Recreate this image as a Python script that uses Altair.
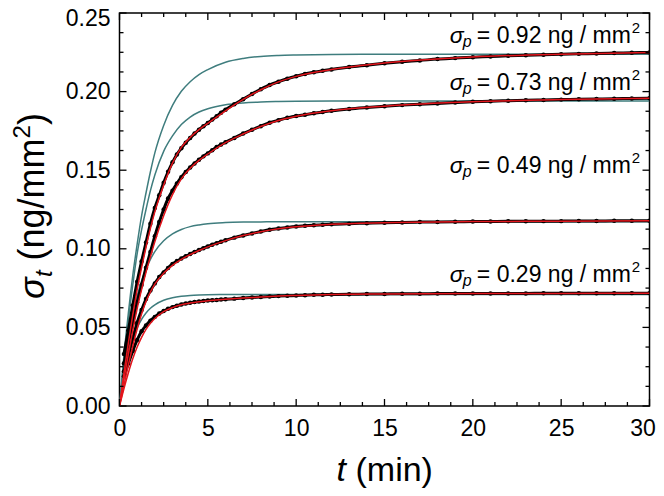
import altair as alt
import pandas as pd

# ---------------- data ----------------
T_DATA = [0.25, 0.5, 0.75, 1.0, 1.25, 1.5, 1.75, 2.0, 2.25, 2.5, 2.75, 3.0, 3.25, 3.5, 3.75, 4.0,
          4.25, 4.5, 4.75, 5.0, 5.25, 5.5, 5.75, 6.0,
          6.5, 7.0, 7.5, 8.0, 8.5, 9.0, 9.5, 10.0, 10.5, 11.0, 11.5, 12.0,
          13, 14, 15, 16, 17, 18, 19, 20, 21, 22, 23, 24, 25, 26, 27, 28, 29, 30]

DATA_092 = [0.033, 0.048, 0.064, 0.079, 0.092, 0.104, 0.116, 0.126, 0.134, 0.142, 0.149, 0.155,
            0.160, 0.164, 0.1675, 0.1705, 0.1733, 0.1758, 0.178, 0.180, 0.1822, 0.1843, 0.1865, 0.1885,
            0.1920, 0.1952, 0.1985, 0.2015, 0.2042, 0.2063, 0.2082, 0.2098, 0.2112, 0.2123, 0.2133, 0.2141,
            0.2156, 0.2168, 0.2180, 0.2190, 0.2198, 0.2207, 0.2213, 0.2219, 0.2223, 0.2228, 0.2231, 0.2235,
            0.2238, 0.2240, 0.2243, 0.2245, 0.2247, 0.2249]
DATA_073 = [0.027, 0.040, 0.053, 0.066, 0.077, 0.088, 0.098, 0.108, 0.117, 0.125, 0.132, 0.137,
            0.1415, 0.1455, 0.1488, 0.1517, 0.1543, 0.1566, 0.1588, 0.1607, 0.1627, 0.1647, 0.1663, 0.1678,
            0.1705, 0.1733, 0.1757, 0.1780, 0.1802, 0.1818, 0.1833, 0.1845, 0.1853, 0.1862, 0.1870, 0.1878,
            0.1890, 0.1899, 0.1907, 0.1914, 0.1920, 0.1925, 0.1930, 0.1935, 0.1939, 0.1942, 0.1945, 0.1947,
            0.1949, 0.1951, 0.1953, 0.1955, 0.1956, 0.1958]
DATA_049 = [0.022, 0.032, 0.043, 0.053, 0.061, 0.068, 0.0735, 0.078, 0.082, 0.085, 0.0878, 0.0903,
            0.0922, 0.0938, 0.0953, 0.0967, 0.0979, 0.0992, 0.1004, 0.1015, 0.1026, 0.1036, 0.1045, 0.1054,
            0.1071, 0.1085, 0.1098, 0.1110, 0.1121, 0.1129, 0.1136, 0.1142, 0.1146, 0.1150, 0.1153, 0.1156,
            0.1160, 0.1163, 0.1166, 0.1168, 0.1170, 0.1171, 0.1172, 0.1173, 0.1174, 0.1175, 0.1175, 0.1176,
            0.1176, 0.1177, 0.1177, 0.1178, 0.1178, 0.1178]
DATA_029 = [0.019, 0.027, 0.035, 0.042, 0.0475, 0.0512, 0.0543, 0.0567, 0.0588, 0.0604, 0.0618, 0.0629,
            0.0638, 0.0646, 0.0652, 0.0657, 0.0661, 0.0665, 0.0668, 0.0671, 0.0673, 0.0675, 0.0677, 0.0679,
            0.0683, 0.0687, 0.0690, 0.0693, 0.0696, 0.0699, 0.0701, 0.0703, 0.0705, 0.0707, 0.0708, 0.0709,
            0.0711, 0.0712, 0.0713, 0.0714, 0.0714, 0.0715, 0.0715, 0.0715, 0.0716, 0.0716, 0.0716, 0.0717,
            0.0717, 0.0717, 0.0717, 0.0717, 0.0718, 0.0718]

T_FIT = [0, 0.25, 0.5, 0.75, 1, 1.25, 1.5, 1.75, 2, 2.5, 3, 3.5, 4, 4.5, 5, 6, 7, 8, 9, 10, 12, 15, 20, 25, 30]

FIT_092 = [0, 0.021, 0.040, 0.058, 0.074, 0.088, 0.101, 0.113, 0.1235, 0.1405, 0.1545, 0.1645, 0.1708,
           0.1758, 0.1798, 0.1878, 0.1950, 0.2012, 0.2062, 0.2097, 0.2140, 0.2182, 0.2220, 0.2238, 0.2248]
FIT_073 = [0, 0.017, 0.033, 0.048, 0.062, 0.074, 0.085, 0.095, 0.1045, 0.121, 0.1345, 0.1445, 0.1512,
           0.1562, 0.1603, 0.1675, 0.1730, 0.1778, 0.1816, 0.1843, 0.1878, 0.1907, 0.1935, 0.1949, 0.1957]
FIT_049 = [0, 0.013, 0.026, 0.038, 0.049, 0.0585, 0.0665, 0.0725, 0.0775, 0.0845, 0.0895, 0.0933, 0.0963,
           0.0989, 0.1012, 0.1052, 0.1084, 0.1109, 0.1128, 0.1141, 0.1156, 0.1166, 0.1173, 0.1176, 0.1178]
FIT_029 = [0, 0.011, 0.021, 0.030, 0.0375, 0.0437, 0.0488, 0.0527, 0.0557, 0.0600, 0.0626, 0.0644, 0.0655,
           0.0663, 0.0669, 0.0679, 0.0687, 0.0693, 0.0699, 0.0703, 0.0709, 0.0713, 0.0715, 0.0716, 0.0717]

FAST_092 = [0, 0.032, 0.059, 0.083, 0.103, 0.121, 0.1355, 0.149, 0.161, 0.1785, 0.1912, 0.2002, 0.2063,
            0.2108, 0.2140, 0.2187, 0.2211, 0.2224, 0.2230, 0.2233, 0.2236, 0.2237, 0.2237, 0.2237, 0.2237]
FAST_073 = [0, 0.030, 0.055, 0.077, 0.097, 0.112, 0.125, 0.137, 0.147, 0.162, 0.1718, 0.1790, 0.1838,
            0.1870, 0.1891, 0.1916, 0.1928, 0.1934, 0.1937, 0.1939, 0.1940, 0.1940, 0.1940, 0.1940, 0.1940]
FAST_049 = [0, 0.0238, 0.0428, 0.0579, 0.070, 0.0796, 0.0872, 0.0933, 0.0982, 0.1051, 0.1095, 0.1123, 0.1141,
            0.1152, 0.1160, 0.1167, 0.1170, 0.1171, 0.1172, 0.1172, 0.1172, 0.1172, 0.1172, 0.1172, 0.1172]
FAST_029 = [0, 0.0184, 0.032, 0.0421, 0.0496, 0.0551, 0.0592, 0.0622, 0.0644, 0.0673, 0.0689, 0.0698, 0.0703,
            0.0706, 0.0708, 0.0709, 0.0710, 0.0710, 0.0710, 0.0710, 0.0710, 0.0710, 0.0710, 0.0710, 0.0710]

SERIES = ["0.92", "0.73", "0.49", "0.29"]
ANNOT_TEXT = ["= 0.92 ng / mm", "= 0.73 ng / mm", "= 0.49 ng / mm", "= 0.29 ng / mm"]
ANNOT_T = [18.7, 18.7, 18.7, 18.7]
ANNOT_V = [0.2309, 0.2010, 0.1482, 0.0789]

X_MAJOR = [0, 5, 10, 15, 20, 25, 30]
X_MINOR = [1.25, 2.5, 3.75, 6.25, 7.5, 8.75, 11.25, 12.5, 13.75, 16.25, 17.5, 18.75,
           21.25, 22.5, 23.75, 26.25, 27.5, 28.75]
Y_MAJOR = [0.0, 0.05, 0.10, 0.15, 0.20, 0.25]
Y_MINOR = [0.0125, 0.025, 0.0375, 0.0625, 0.075, 0.0875, 0.1125, 0.125, 0.1375,
           0.1625, 0.175, 0.1875, 0.2125, 0.225, 0.2375]

# ---------------- tables ----------------
def long(ts, lists):
    rows = []
    for name, vals in zip(SERIES, lists):
        for t, v in zip(ts, vals):
            rows.append({"t": t, "v": v, "series": name})
    return pd.DataFrame(rows)

data_df = long(T_DATA, [DATA_092, DATA_073, DATA_049, DATA_029])
fit_df = long(T_FIT, [FIT_092, FIT_073, FIT_049, FIT_029])
fast_df = long(T_FIT, [FAST_092, FAST_073, FAST_049, FAST_029])
ann_df = pd.DataFrame({"t": ANNOT_T, "v": ANNOT_V, "label": ANNOT_TEXT})

W, H = 530, 393
FONT = "Liberation Sans"
TEAL = "#3f7d7e"
RED = "#e3151c"

xs = alt.Scale(domain=[0, 30], nice=False, zero=False)
ys = alt.Scale(domain=[0, 0.25], nice=False, zero=False)
xaxis = alt.Axis(values=X_MAJOR, format="d", labelPadding=11, labelFlush=False, title=None,
                 labelOffset={"condition": {"test": "datum.value >= 29.9", "value": -7}, "value": 0})
yaxis = alt.Axis(values=Y_MAJOR, format=".2f", labelPadding=9.5, labelFlush=False, title=None,
                 labelOffset={"condition": {"test": "datum.value >= 0.249", "value": 5}, "value": 0})
X = alt.X("t:Q", scale=xs, axis=xaxis)
Y = alt.Y("v:Q", scale=ys, axis=yaxis)

fast = alt.Chart(fast_df).mark_line(color=TEAL, strokeWidth=1.5, interpolate="monotone", clip=True).encode(
    x=X, y=Y, detail="series:N")
band = alt.Chart(data_df).mark_line(color="black", strokeWidth=3.0, interpolate="monotone", clip=True).encode(
    x=X, y=Y, detail="series:N")
dots = alt.Chart(data_df).mark_circle(color="black", size=20, opacity=1, clip=True).encode(x=X, y=Y)
fit = alt.Chart(fit_df).mark_line(color=RED, strokeWidth=1.5, interpolate="monotone", clip=True).encode(
    x=X, y=Y, detail="series:N")

# ticks pointing inward on all four sides
def xticks(vals, length):
    df = pd.DataFrame({"t": vals})
    b = alt.Chart(df).mark_rule(color="black", strokeWidth=1.3).encode(
        x=X, y=alt.value(H), y2=alt.value(H - length))
    t = alt.Chart(df).mark_rule(color="black", strokeWidth=1.3).encode(
        x=X, y=alt.value(0), y2=alt.value(length))
    return [b, t]

def yticks(vals, length):
    df = pd.DataFrame({"v": vals})
    l = alt.Chart(df).mark_rule(color="black", strokeWidth=1.3).encode(
        y=Y, x=alt.value(0), x2=alt.value(length))
    r = alt.Chart(df).mark_rule(color="black", strokeWidth=1.3).encode(
        y=Y, x=alt.value(W), x2=alt.value(W - length))
    return [l, r]

ticks = xticks(X_MAJOR, 7) + xticks(X_MINOR, 4) + yticks(Y_MAJOR, 7) + yticks(Y_MINOR, 4)

# annotations: sigma_p = value ng / mm^2
AFS = 23
ann_base = alt.Chart(ann_df)
a_sig = ann_base.mark_text(text="σ", font=FONT, fontSize=AFS, fontStyle="italic", align="left",
                           baseline="alphabetic", color="black").encode(x=X, y=Y)
a_p = ann_base.mark_text(text="p", font=FONT, fontSize=16, fontStyle="italic", align="left",
                         baseline="alphabetic", dx=13, dy=4, color="black").encode(x=X, y=Y)
a_main = ann_base.mark_text(font=FONT, fontSize=AFS, align="left", baseline="alphabetic", dx=27,
                            color="black").encode(x=X, y=Y, text="label:N")
a_sup = ann_base.mark_text(text="2", font=FONT, fontSize=15, align="left", baseline="alphabetic",
                           dx=182, dy=-10, color="black").encode(x=X, y=Y)

# axis titles built from pieces (italic symbols, sub/superscripts)
one = pd.DataFrame({"k": [0]})
tx = alt.Chart(one)
xt1 = tx.mark_text(text="t", font=FONT, fontSize=34, fontStyle="italic", align="left",
                   baseline="alphabetic", dx=-48, color="black").encode(x=alt.value(W / 2), y=alt.value(H + 75))
xt2 = tx.mark_text(text="(min)", font=FONT, fontSize=34, align="left",
                   baseline="alphabetic", dx=-29, color="black").encode(x=alt.value(W / 2), y=alt.value(H + 75))

YX, YY = -76, 286
yt_parts = [
    ("σ", 36, "italic", 0, 0),
    ("t", 24, "italic", 22, 8),
    ("(ng/mm", 36, "normal", 38.5, 0),
    ("2", 24, "normal", 160.5, -14),
    (")", 36, "normal", 174, 0),
]
yt = []
for txt, fs, st, dx, dy in yt_parts:
    yt.append(tx.mark_text(text=txt, font=FONT, fontSize=fs, fontStyle=st, align="left",
                           baseline="alphabetic", angle=270, dx=dx, dy=dy, color="black").encode(
        x=alt.value(YX), y=alt.value(YY)))

chart = alt.layer(
    fast, band, dots, fit, *ticks, a_sig, a_p, a_main, a_sup, xt1, xt2, *yt
).properties(
    width=W, height=H,
    autosize=alt.AutoSizeParams(type="none"),
    padding={"left": 111.5, "top": 5, "right": 6, "bottom": 82},
).configure_view(
    stroke="black", strokeWidth=1.5
).configure_axis(
    labelFont=FONT, labelFontSize=23, labelColor="black", grid=False, ticks=False, domain=False
)

chart.save("out.html", embed_options={"renderer": "svg", "actions": False})
